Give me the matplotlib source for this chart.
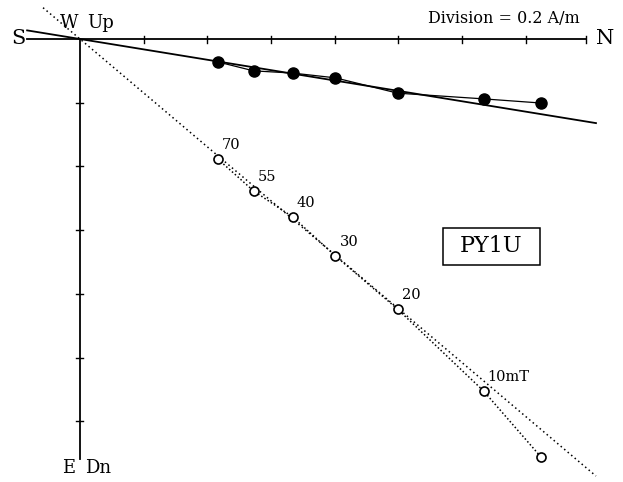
import numpy as np
import matplotlib
matplotlib.use("Agg")
import matplotlib.pyplot as plt
from matplotlib.patches import Rectangle

# Demagnetisation steps (mT), NRM first
steps = [0, 10, 20, 30, 40, 55, 70]
step_labels = ["", "10mT", "20", "30", "40", "55", "70"]
# Components in A/m
north = [1.447, 1.267, 0.997, 0.802, 0.668, 0.545, 0.433]
east = [0.201, 0.188, 0.170, 0.122, 0.107, 0.100, 0.072]
down = [1.312, 1.105, 0.848, 0.681, 0.559, 0.477, 0.377]

# PCA fit lines through origin (slope vs north)
fit_h_slope = 0.163
fit_v_slope = 0.847
fit_h_range = [-0.166, 1.62]
fit_v_range = [-0.116, 1.62]

division = 0.2
n_ticks = [0.2, 0.4, 0.6, 0.8, 1.0, 1.2, 1.4, 1.59]
d_ticks = [0.2, 0.4, 0.6, 0.8, 1.0, 1.2]

plt.rcParams["font.family"] = ["DejaVu Serif"]

W, H = 623, 482
ox, oy = 80, 39
px_per_unit = 318.5

fig = plt.figure(figsize=(W / 100, H / 100), dpi=100)
ax = fig.add_axes([0, 0, 1, 1])
ax.set_xlim(-ox / px_per_unit, (W - ox) / px_per_unit)
ax.set_ylim(-(H - oy) / px_per_unit, oy / px_per_unit)
ax.axis("off")

# axes
tk = 3.5 / px_per_unit
ax.plot([-0.166, 1.59], [0, 0], color="black", lw=1.3)
ax.plot([0, 0], [0, -1.32], color="black", lw=1.3)
for t in n_ticks:
    ax.plot([t, t], [-tk, tk], color="black", lw=1.0)
for t in d_ticks:
    ax.plot([-tk, tk], [-t, -t], color="black", lw=1.0)

n = np.array(north)
e = np.array(east)
d = np.array(down)

# fit lines
xh = np.array(fit_h_range)
ax.plot(xh, -fit_h_slope * xh, color="black", lw=1.3)
xv = np.array(fit_v_range)
ax.plot(xv, -fit_v_slope * xv, color="black", lw=1.1, ls=(0, (1, 2)))

# horizontal projection (filled)
ax.plot(n, -e, color="black", lw=0.9)
ax.plot(n, -e, "o", color="black", ms=8, zorder=5)

# vertical projection (open)
ax.plot(n, -d, color="black", lw=1.1, ls=(0, (1, 1.5)))
ax.plot(n, -d, "o", mfc="white", mec="black", mew=1.2, ms=6.5, zorder=5)

for xi, yi, lab in zip(n, -d, step_labels):
    if lab:
        ax.annotate(lab, (xi, yi), xytext=(3, 5), textcoords="offset points",
                    fontsize=10.5, ha="left", va="bottom")

ax.text(-0.192, 0, "S", fontsize=15, ha="center", va="center")
ax.text(1.65, 0, "N", fontsize=15, ha="center", va="center")
ax.text(-0.006, 0.050, "W", fontsize=13, ha="right", va="center")
ax.text(0.022, 0.050, "Up", fontsize=13, ha="left", va="center")
ax.text(-0.016, -1.347, "E", fontsize=13, ha="right", va="center")
ax.text(0.016, -1.347, "Dn", fontsize=13, ha="left", va="center")
ax.text(1.57, 0.063, "Division = 0.2 A/m", fontsize=11.5, ha="right", va="center")

# sample label box
bw, bh = 97 / px_per_unit, 37 / px_per_unit
bx, by = 1.292, -0.651
ax.add_patch(Rectangle((bx - bw / 2, by - bh / 2), bw, bh, fc="white", ec="black", lw=1.1))
ax.text(bx, by, "PY1U", fontsize=16, ha="center", va="center")

fig.savefig("out.png", dpi=100)
